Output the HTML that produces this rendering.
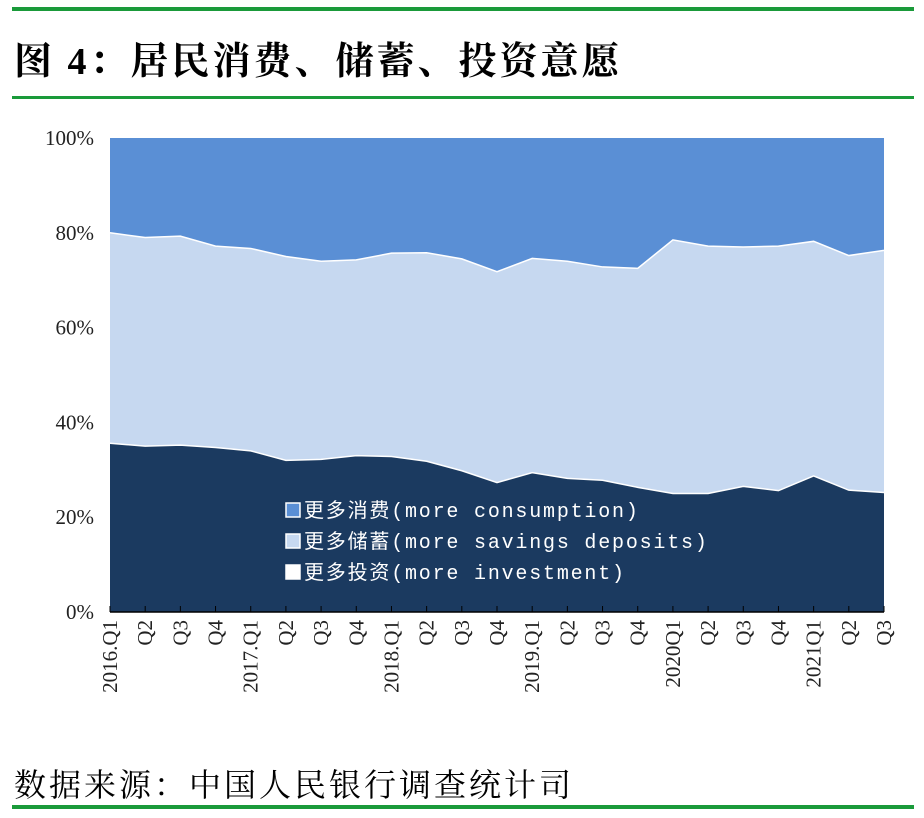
<!DOCTYPE html>
<html><head><meta charset="utf-8"><style>
body{margin:0;background:#fff;width:924px;height:818px;overflow:hidden;font-family:"Liberation Serif","Noto Serif CJK SC",serif;}
.t{position:absolute;white-space:nowrap;}
</style></head><body>
<div class="t" style="left:12px;top:7px;width:902px;height:4px;background:#1a9a3a"></div>
<div class="t" style="left:14px;top:30px;font-size:38px;letter-spacing:3px;font-weight:bold;font-family:'Liberation Serif','Noto Serif CJK SC',serif;color:#000">图 4：居民消费、储蓄、投资意愿</div>
<div class="t" style="left:12px;top:96px;width:902px;height:3px;background:#1a9a3a"></div>
<svg class="t" style="left:0;top:0" width="924" height="818" id="svg"></svg>
<div class="t" style="left:14px;top:760px;font-size:32px;letter-spacing:3px;font-family:'Liberation Serif','Noto Serif CJK SC',serif;color:#000">数据来源：中国人民银行调查统计司</div>
<div class="t" style="left:12px;top:805px;width:902px;height:4px;background:#1a9a3a"></div>
<script>
const categories=["2016.Q1","Q2","Q3","Q4","2017.Q1","Q2","Q3","Q4","2018.Q1","Q2","Q3","Q4","2019.Q1","Q2","Q3","Q4","2020Q1","Q2","Q3","Q4","2021Q1","Q2","Q3"];
const investment=[35.6,35,35.2,34.7,34,32,32.2,33,32.8,31.8,29.8,27.3,29.4,28.2,27.8,26.3,25,25,26.5,25.6,28.7,25.7,25.2];
const investPlusSavings=[80,79,79.3,77.2,76.7,75,74,74.3,75.7,75.8,74.5,71.8,74.6,74,72.8,72.5,78.5,77.2,77,77.2,78.2,75.2,76.3];
const yTicks=[0,20,40,60,80,100];
const NS="http://www.w3.org/2000/svg";
const svg=document.getElementById('svg');
const X0=110,X1=884,Y0=612,Y1=138;
const x=i=>X0+i*(X1-X0)/(categories.length-1);
const y=v=>Y0-(v/100)*(Y0-Y1);
function mk(tag,attrs){const e=document.createElementNS(NS,tag);for(const k in attrs)e.setAttribute(k,attrs[k]);svg.appendChild(e);return e;}
let r=mk('rect',{x:X0,y:Y1,width:X1-X0,height:Y0-Y1,fill:'#5a8fd5'});


function area(top,bot){let d='M'+x(0)+','+y(top[0]);top.forEach((v,i)=>d+=' L'+x(i)+','+y(v));for(let i=bot.length-1;i>=0;i--)d+=' L'+x(i)+','+y(bot[i]);return d+'Z';}
const zeros=investment.map(()=>0);
let a1=mk('path',{d:area(investPlusSavings,investment),fill:'#c6d8f0'});


let a2=mk('path',{d:area(investment,zeros),fill:'#1b3a60'});


let ln1=mk('polyline',{points:investPlusSavings.map((v,i)=>x(i)+','+y(v)).join(' '),fill:'none',stroke:'#fff','stroke-width':1.5});


let ln2=mk('polyline',{points:investment.map((v,i)=>x(i)+','+y(v)).join(' '),fill:'none',stroke:'#fff','stroke-width':1.5});


let ax=mk('line',{x1:X0,y1:Y0,x2:X1,y2:Y0,stroke:'#000','stroke-width':1.5});


yTicks.forEach(v=>{let t=mk('text',{x:94,y:y(v)+7,'text-anchor':'end','font-size':21,fill:'#222','font-family':'Liberation Serif, serif'});t.textContent=v+'%';

});
categories.forEach((c,i)=>{let tk=mk('line',{x1:x(i),y1:Y0,x2:x(i),y2:Y0-6,stroke:'#000','stroke-width':1});


let t=mk('text',{transform:`translate(${x(i)+7},620) rotate(-90)`,'text-anchor':'end','font-size':21,fill:'#222','font-family':'Liberation Serif, serif'});t.textContent=c;

});
const legend=[["更多消费(more consumption)","#5a8fd5"],["更多储蓄(more savings deposits)","#c6d8f0"],["更多投资(more investment)","#ffffff"]];
legend.forEach((l,i)=>{const yy=503+i*31;let b=mk('rect',{x:286,y:yy,width:14,height:14,fill:l[1],stroke:'#fff','stroke-width':1.5});


let t=mk('text',{x:304,y:yy+14,'font-size':20,'letter-spacing':1.8,fill:'#fff','font-family':'Liberation Mono, Noto Sans CJK SC, monospace'});t.textContent=l[0];

});
</script>
</body></html>
